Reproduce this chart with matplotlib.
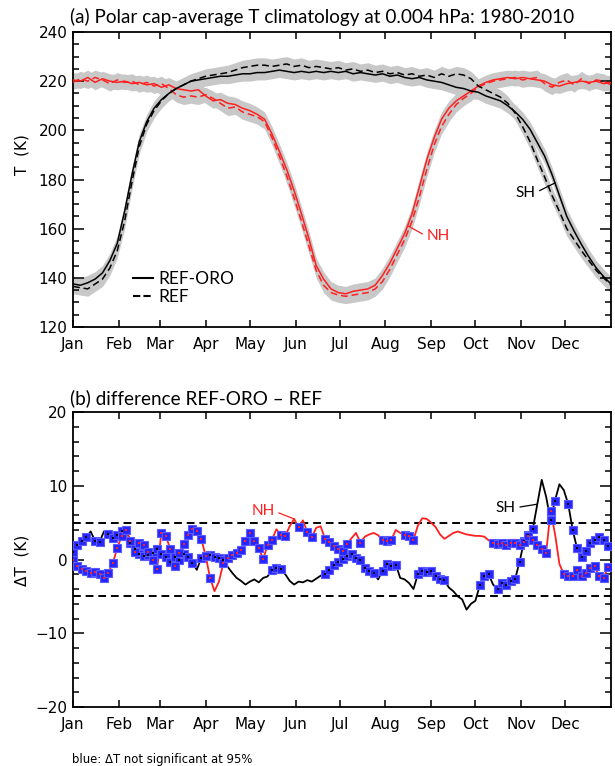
import numpy as np
import matplotlib
matplotlib.use("Agg")
import matplotlib.pyplot as plt
from matplotlib.lines import Line2D
from matplotlib.ticker import MultipleLocator

# ---------------- data ----------------
month_names = ["Jan", "Feb", "Mar", "Apr", "May", "Jun",
               "Jul", "Aug", "Sep", "Oct", "Nov", "Dec"]
month_starts = [0, 31, 59, 90, 120, 151, 181, 212, 243, 273, 304, 334]

# panel (a): 5-day sampled climatology (K)
days5 = np.arange(0, 366, 5)
nh_oro = [220.5, 220.0, 221.5, 219.5, 221.0, 220.0, 219.5, 220.0, 219.0, 219.5,
          218.5, 219.0, 217.5, 218.5, 217.0, 216.5, 216.0, 216.5, 214.0, 212.0,
          212.5, 211.0, 210.5, 209.0, 208.0, 206.5, 204.5, 198.5, 191.5, 184.0,
          175.5, 166.0, 156.0, 145.0, 139.5, 135.5, 134.0, 133.5, 134.5, 135.0,
          135.5, 137.0, 141.0, 146.0, 152.0, 158.0, 166.0, 177.0, 188.0, 197.0,
          204.5, 209.0, 212.0, 214.0, 216.0, 218.0, 219.5, 220.5, 221.0, 221.5,
          221.0, 221.5, 221.0, 220.5, 220.0, 218.5, 218.0, 219.0, 219.5, 220.0,
          219.5, 220.0, 219.0, 219.5]
nh_ref = [219.5, 221.0, 220.0, 221.5, 220.5, 219.0, 220.5, 219.5, 220.0, 218.5,
          219.5, 218.0, 219.0, 217.0, 214.5, 213.5, 214.0, 213.5, 214.5, 213.0,
          211.0, 209.0, 209.5, 207.5, 206.5, 205.5, 203.5, 197.0, 189.5, 181.5,
          172.5, 163.0, 153.0, 143.0, 137.0, 134.0, 133.0, 132.5, 133.0, 133.5,
          134.0, 135.5, 138.5, 143.5, 149.5, 155.5, 163.0, 173.0, 184.0, 194.0,
          201.5, 206.5, 210.5, 213.0, 215.0, 217.5, 219.0, 220.0, 220.5, 221.0,
          221.5, 220.5, 221.0, 221.5, 219.0, 217.5, 219.5, 220.5, 218.5, 221.0,
          219.0, 220.5, 220.0, 218.5]
sh_oro = [137.5, 137.0, 138.0, 139.5, 142.0, 147.0, 154.0, 167.0, 182.0, 195.5,
          203.5, 209.0, 212.5, 215.0, 217.0, 218.5, 220.0, 220.5, 221.0, 221.5,
          222.0, 222.0, 222.5, 223.0, 223.0, 223.5, 223.5, 224.0, 224.5, 224.0,
          223.5, 224.0, 223.5, 224.0, 223.5, 224.0, 223.5, 224.0, 223.0, 223.5,
          223.0, 222.5, 223.0, 222.0, 222.5, 221.5, 221.0, 221.5, 220.5, 220.0,
          219.5, 218.5, 217.5, 217.0, 216.0, 215.5, 214.0, 213.0, 212.0, 210.0,
          207.5, 204.5, 200.5, 195.0, 189.5, 182.0, 173.5, 165.0, 159.0, 153.5,
          148.5, 144.0, 140.5, 137.5]
sh_ref = [136.5, 136.0, 135.5, 137.5, 139.5, 144.0, 151.0, 163.0, 179.0, 193.5,
          202.5, 208.0, 212.0, 215.0, 217.0, 218.5, 220.0, 221.0, 222.0, 222.5,
          223.0, 223.5, 224.5, 225.5, 226.0, 226.5, 226.5, 226.0, 226.5, 227.0,
          226.0, 226.5, 225.5, 226.0, 225.5, 225.0, 225.5, 224.5, 225.0, 224.0,
          224.5, 223.5, 224.0, 223.0, 223.5, 222.5, 223.0, 222.0, 222.5, 221.5,
          223.0, 222.0, 223.0, 222.5, 221.0, 218.0, 216.5, 215.0, 213.5, 211.0,
          207.0, 201.5, 195.5, 188.0, 181.0, 173.5, 167.0, 160.0, 155.5, 151.0,
          147.0, 143.0, 140.0, 137.0]
spread = 3.0  # half-width of grey spread band (K)

# panel (b): 3-day sampled difference REF-ORO - REF (K)
days3 = np.arange(0, 364, 3)
nh_diff = [0.0, -0.9, -1.3, -1.6, -1.8, -1.7, -2.0, -2.5, -1.8, -0.5,
           1.5, 3.2, 4.0, 2.5, 1.0, 2.2, 2.0, 1.0, 0.0, -1.3,
           3.6, 3.2, 1.4, -0.9, 0.9, 2.1, 3.3, 4.1, 3.8, 2.8,
           0.5, -2.5, -4.3, -3.0, -0.5, 0.2, 0.6, 0.9, 1.3, 2.5,
           3.6, 2.5, 1.5, 0.1, 1.9, 2.7, 4.1, 3.3, 3.2, 4.5,
           5.5, 4.4, 5.3, 3.7, 3.0, 4.3, 4.5, 2.8, 2.4, 1.8,
           1.4, 1.1, 2.1, 2.9, 3.6, 2.3, 3.1, 3.4, 3.6, 3.3,
           2.6, 2.5, 2.7, 4.0, 3.6, 3.3, 3.2, 2.7, 4.6, 5.6,
           5.5, 5.0, 4.4, 3.4, 2.8, 3.2, 3.6, 3.8, 3.6, 3.4,
           3.3, 3.2, 3.2, 3.1, 2.6, 2.3, 2.1, 2.2, 2.0, 2.3,
           2.2, 2.0, 2.4, 3.2, 2.6, 2.0, 1.4, 0.9, 6.6, 3.5,
           -0.6, -2.0, -2.3, -2.3, -1.4, -2.3, -1.8, -1.2, -0.9, -2.3,
           -2.5, -1.0]
sh_diff = [1.0, 2.0, 2.5, 3.0, 3.8, 2.5, 2.4, 3.8, 3.4, 2.9,
           3.3, 3.8, 4.2, 2.3, 1.4, 0.8, 0.5, 0.6, 0.9, 1.4,
           0.8, 0.3, -0.3, 0.4, 0.0, 0.7, 0.3, -0.5, -1.4, 0.2,
           0.5, 0.6, 0.4, 0.2, 0.0, -1.0, -1.8, -2.5, -2.9, -3.4,
           -3.0, -2.7, -3.1, -2.5, -2.3, -1.4, -1.2, -1.3, -2.0, -2.9,
           -3.4, -3.0, -3.1, -2.8, -3.0, -2.6, -2.2, -1.9, -1.4, -0.8,
           -0.3, 0.1, 0.5, 0.7, 0.2, 0.0, -1.2, -1.6, -1.8, -2.7,
           -1.5, -0.6, -0.9, -0.7, -2.5, -2.7, -3.2, -4.0, -2.0, -1.6,
           -1.7, -1.5, -2.3, -2.6, -2.8, -3.8, -4.3, -5.0, -5.4, -6.8,
           -6.0, -5.6, -3.5, -2.2, -2.0, -3.4, -4.0, -3.2, -3.4, -2.9,
           -2.6, -0.3, 2.5, 3.3, 4.2, 7.5, 10.8, 8.5, 5.3, 8.0,
           10.2, 9.4, 7.5, 4.0, 1.5, 0.3, 1.2, 2.3, 2.6, 3.0,
           2.7, 1.8]
# day ranges where the difference is NOT significant at 95% (blue squares)
nh_nonsig = [(0, 36), (39, 57), (60, 93), (102, 135), (141, 144), (153, 153),
             (159, 162), (171, 186), (195, 195), (210, 216), (225, 225),
             (228, 231), (285, 322), (324, 324), (333, 363)]
sh_nonsig = [(0, 9), (15, 18), (24, 33), (39, 81), (87, 102), (135, 141),
             (171, 204), (210, 219), (234, 252), (276, 282), (288, 312),
             (324, 327), (336, 363)]
sig_limit = 5.0

# ---------------- style ----------------
RED = "#ff2020"
GREY = "#c8c8c8"
BLUE = "#2626ff"
TFONT = ["Lato", "DejaVu Sans"]
plt.rcParams["font.family"] = ["DejaVu Sans"]

fig = plt.figure(figsize=(6.15, 7.66), dpi=100)
W, H = 615.0, 766.0
ax1 = fig.add_axes([73 / W, 1 - 327 / H, (611 - 73) / W, (327 - 32) / H])
ax2 = fig.add_axes([73 / W, 1 - 707 / H, (611 - 73) / W, (707 - 412) / H])


def style_axes(ax, ymaj, ymin):
    ax.set_xlim(0, 365)
    ax.set_xticks(month_starts)
    ax.set_xticklabels(month_names)
    ax.yaxis.set_major_locator(MultipleLocator(ymaj))
    ax.yaxis.set_minor_locator(MultipleLocator(ymin))
    ax.tick_params(axis="x", which="major", direction="in", length=5, width=1.1,
                   top=True, bottom=True, pad=7.5, labelsize=11)
    ax.tick_params(axis="x", which="minor", bottom=False, top=False)
    ax.tick_params(axis="y", which="major", direction="in", length=8, width=1.1,
                   left=True, right=True, pad=4, labelsize=11)
    ax.tick_params(axis="y", which="minor", direction="in", length=4, width=1.1,
                   left=True, right=True)
    for s in ax.spines.values():
        s.set_linewidth(1.3)


# ---------------- panel (a) ----------------
for series in (nh_oro, nh_ref, sh_oro, sh_ref):
    v = np.asarray(series)
    ax1.fill_between(days5, v - spread, v + spread, color=GREY, lw=0, zorder=1)

ax1.plot(days5, nh_oro, color=RED, lw=1.1, zorder=3)
l, = ax1.plot(days5, nh_ref, color=RED, lw=1.1, zorder=3)
l.set_dashes([4.5, 2.5])
ax1.plot(days5, sh_oro, color="black", lw=1.1, zorder=3)
l, = ax1.plot(days5, sh_ref, color="black", lw=1.1, zorder=3)
l.set_dashes([4.5, 2.5])

ax1.set_ylim(120, 240)
style_axes(ax1, 20, 5)

h1 = Line2D([], [], color="black", lw=1.5)
h2 = Line2D([], [], color="black", lw=1.5, dashes=[3.5, 1.5])
ax1.legend([h1, h2], ["REF-ORO", "REF"], loc="center left",
           bbox_to_anchor=(0.111, 0.132), frameon=False, borderpad=0,
           borderaxespad=0, handlelength=1.15, handletextpad=0.35,
           labelspacing=0.1, prop={"family": TFONT, "size": 12.5})

x_nh = 227
ax1.annotate("NH", xy=(x_nh, np.interp(x_nh, days5, nh_oro)),
             xytext=(13.5, -7.5), textcoords="offset points", ha="left",
             va="center", color=RED, fontsize=11, family=TFONT,
             arrowprops=dict(arrowstyle="-", color=RED, lw=0.9,
                             shrinkA=1, shrinkB=0, relpos=(0, 0.5)))
x_sh = 327
ax1.annotate("SH", xy=(x_sh, np.interp(x_sh, days5, sh_oro)),
             xytext=(-14, -7), textcoords="offset points", ha="right",
             va="center", color="black", fontsize=11, family=TFONT,
             arrowprops=dict(arrowstyle="-", color="black", lw=0.9,
                             shrinkA=1, shrinkB=0, relpos=(1, 0.5)))

# ---------------- panel (b) ----------------
ax2.axhline(sig_limit, color="black", lw=1.4, dashes=[4, 2.5], zorder=1)
ax2.axhline(-sig_limit, color="black", lw=1.4, dashes=[4, 2.5], zorder=1)


def nonsig_mask(ranges):
    m = np.zeros(len(days3), dtype=bool)
    for lo, hi in ranges:
        m |= (days3 >= lo) & (days3 <= hi)
    return m


for vals, col, rng in ((sh_diff, "black", sh_nonsig), (nh_diff, RED, nh_nonsig)):
    v = np.asarray(vals)
    ax2.plot(days3, v, color=col, lw=1.3, zorder=2)
    m = nonsig_mask(rng)
    ax2.plot(days3[m], v[m], ls="none", marker="s", ms=5.4, mfc=BLUE,
             mec="#5a5aff", mew=0.8, zorder=3)
    ax2.plot(days3[m], v[m], ls="none", marker="s", ms=1.6, mfc=col,
             mec=col, mew=0, zorder=4)

ax2.set_ylim(-20, 20)
style_axes(ax2, 10, 2)

d_nh = 150
ax2.annotate("NH", xy=(d_nh, np.interp(d_nh, days3, nh_diff)),
             xytext=(-14, 5.5), textcoords="offset points", ha="right",
             va="center", color=RED, fontsize=11, family=TFONT,
             arrowprops=dict(arrowstyle="-", color=RED, lw=0.9,
                             shrinkA=1, shrinkB=0, relpos=(1, 0.5)))
d_sh = 315
ax2.annotate("SH", xy=(d_sh, np.interp(d_sh, days3, sh_diff)),
             xytext=(-15.5, -2.5), textcoords="offset points", ha="right",
             va="center", color="black", fontsize=11, family=TFONT,
             arrowprops=dict(arrowstyle="-", color="black", lw=0.9,
                             shrinkA=1, shrinkB=0, relpos=(1, 0.5)))

# ---------------- texts ----------------
fig.text(70 / W, 1 - 17 / H,
         "(a) Polar cap-average T climatology at 0.004 hPa: 1980-2010",
         ha="left", va="center", fontsize=13.6, family=TFONT)
fig.text(70 / W, 1 - 398 / H, "(b) difference REF-ORO \u2013 REF",
         ha="left", va="center", fontsize=13.6, family=TFONT)
fig.text(22 / W, 1 - 155 / H, "T  (K)", rotation=90, ha="center",
         va="center", fontsize=11)
fig.text(22 / W, 1 - 560 / H, "\u0394T  (K)", rotation=90, ha="center",
         va="center", fontsize=11)
fig.text(72 / W, 1 - 759 / H, "blue: \u0394T not significant at 95%",
         ha="left", va="center", fontsize=8.4)

fig.savefig("out.png", dpi=100)
